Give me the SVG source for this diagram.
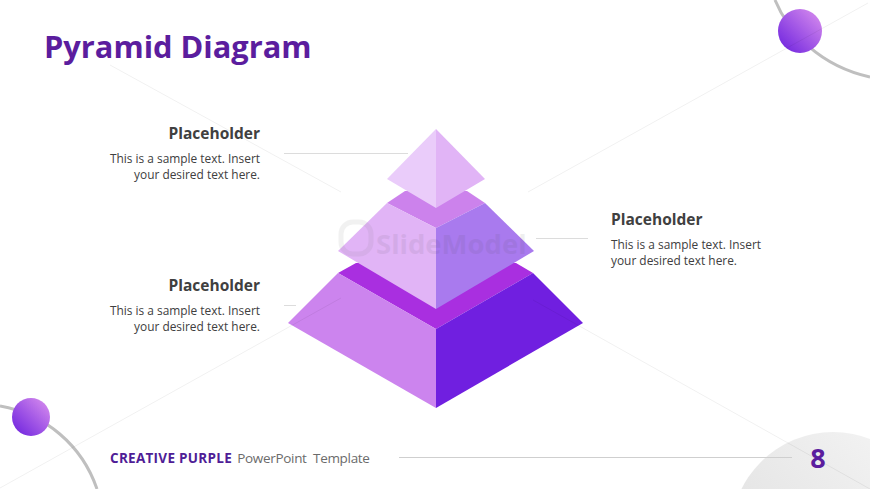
<svg xmlns="http://www.w3.org/2000/svg" width="870" height="489" viewBox="0 0 870 489">
<style>
text{font-family:"Open Sans","Noto Sans","Liberation Sans",sans-serif}
.h{font-size:15.5px;font-weight:700;fill:#404040}
.b{font-size:11.900px;fill:#404040}
.r{text-anchor:end}
.wm{stroke:#000;stroke-opacity:.06;stroke-width:1;fill:none}
.ld{stroke:#dcdcdc;stroke-width:1;fill:none}
.arc{stroke:#bfbfbf;stroke-width:3;fill:none}
</style>
<defs>
<linearGradient id="ball" x1="0.15" y1="0.85" x2="0.85" y2="0.15"><stop offset="0" stop-color="#7a2fe0"/><stop offset="1" stop-color="#cb80ec"/></linearGradient>
<linearGradient id="corner" x1="0" y1="1" x2="1" y2="0"><stop offset="0" stop-color="#dcdcdc"/><stop offset="1" stop-color="#f6f6f6"/></linearGradient>
</defs>
<rect width="870" height="489" fill="#fff"/>
<g id="background">
<circle cx="833" cy="534" r="102" fill="url(#corner)"/>
<path class="arc" d="M775 0C788 32 820 66 870 77"/>
<path class="arc" d="M0 406C45 414 82 445 97 489"/>
<circle cx="800" cy="31" r="22" fill="url(#ball)"/>
<circle cx="31" cy="417" r="19" fill="url(#ball)"/>
</g>
<text x="44" y="58" font-size="30.800" font-weight="700" fill="#5b1d9e">Pyramid Diagram</text>
<g id="connectors">
<path class="ld" d="M284 153.500H408M284 305.500H296M536 238.500H588"/>
<path stroke="#cfcfcf" fill="none" d="M399 457.500H792"/>
</g>
<g id="tier-base">
<path fill="#a92fe0" d="M356 263L516 263L533 273L436 329L338 273Z"/>
<path fill="#cc84ee" d="M338 273L436 329L436 408L288 323Z"/>
<path fill="#701fe0" d="M533 273L583 323L436 408L436 329Z"/>
</g>
<g id="tier-middle">
<path fill="#cc82ec" d="M405 191L467 191L485 203L436 228L387 203Z"/>
<path fill="#e1b4f6" d="M387 203L436 228L436 309L338 251Z"/>
<path fill="#a97aee" d="M485 203L534 251L436 309L436 228Z"/>
</g>
<g id="tier-top">
<path fill="#eaccfa" d="M436 129L436 208L387 179Z"/>
<path fill="#e1b4f6" d="M436 129L485 179L436 208Z"/>
</g>
<g id="watermark" opacity="0.08">
<rect x="341" y="222" width="30" height="32" rx="12" fill="none" stroke="#606060" stroke-width="5"/>
<text x="376" y="254" font-size="27.500" font-weight="700" fill="#404040" font-family="Liberation Sans">SlideModel</text>
</g>
<path id="watermark-lines" class="wm" d="M110 65L341 192M528 192L868 3M0 488L341 298M533 300L870 489"/>
<g id="label-top">
<text class="h r" x="260" y="139">Placeholder</text>
<text class="b r" x="260" y="162.500">This is a sample text. Insert</text>
<text class="b r" x="260" y="178.700">your desired text here.</text>
</g>
<g id="label-right">
<text class="h" x="611" y="225">Placeholder</text>
<text class="b" x="611" y="248.500">This is a sample text. Insert</text>
<text class="b" x="611" y="264.700">your desired text here.</text>
</g>
<g id="label-bottom">
<text class="h r" x="260" y="290.500">Placeholder</text>
<text class="b r" x="260" y="315">This is a sample text. Insert</text>
<text class="b r" x="260" y="331.200">your desired text here.</text>
</g>
<text x="110" y="463" font-size="13.500" fill="#6b6b6b" xml:space="preserve"><tspan font-weight="700" fill="#4f1d96" letter-spacing=".28">CREATIVE PURPLE</tspan><tspan dx="2" letter-spacing="-.31"> PowerPoint  Template</tspan></text>
<text x="818" y="468" font-size="27" font-weight="700" fill="#5b1d9e" text-anchor="middle">8</text>
</svg>
